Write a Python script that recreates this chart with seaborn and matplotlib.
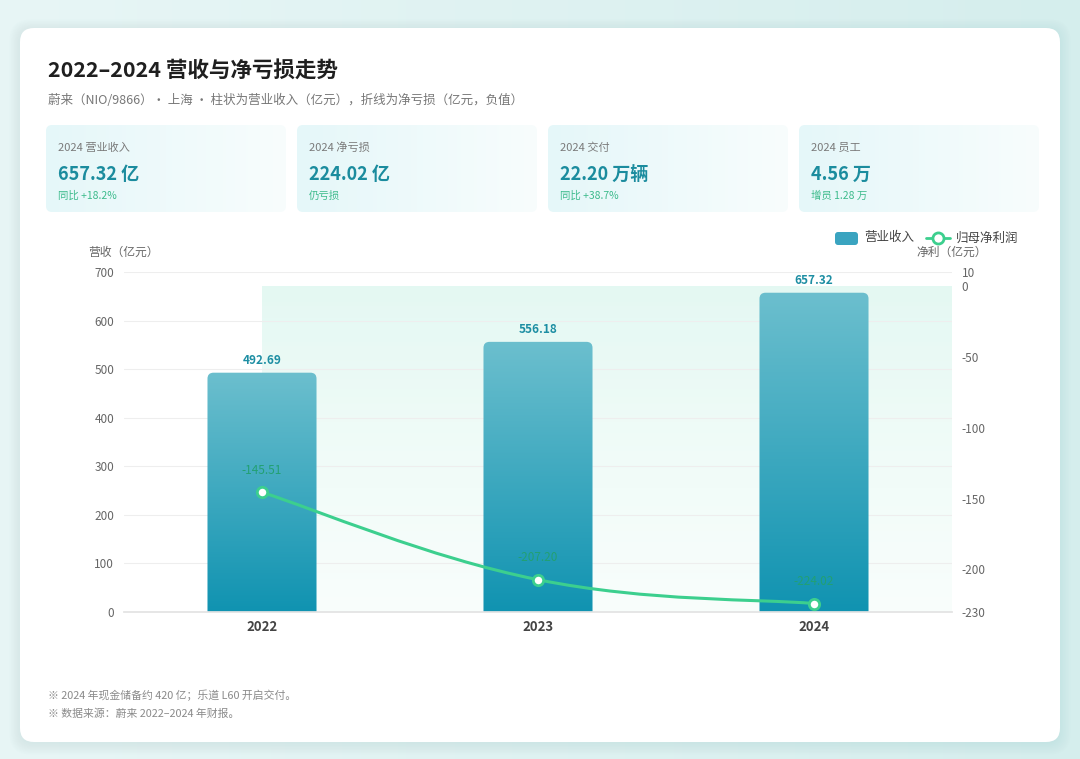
import numpy as np
import matplotlib.pyplot as plt
import matplotlib.colors as mcolors
from matplotlib.patches import FancyBboxPatch, PathPatch
from matplotlib.path import Path
import seaborn as sns

# data
years = ['2022', '2023', '2024']
revenue = [492.69, 556.18, 657.32]
net_profit = [-145.51, -207.20, -224.02]

kpi_titles = ['2024 营业收入', '2024 净亏损', '2024 交付', '2024 员工']
kpi_values = ['657.32 亿', '224.02 亿', '22.20 万辆', '4.56 万']
kpi_notes = ['同比 +18.2%', '仍亏损', '同比 +38.7%', '增员 1.28 万']

left_ticks = [0, 100, 200, 300, 400, 500, 600, 700]
right_ticks = [10, 0, -50, -100, -150, -200, -230]

title = '2022–2024 营收与净亏损走势'
subtitle = '蔚来（NIO/9866）・ 上海 ・ 柱状为营业收入（亿元），折线为净亏损（亿元，负值）'
notes = ['※ 2024 年现金储备约 420 亿；乐道 L60 开启交付。',
         '※ 数据来源：蔚来 2022–2024 年财报。']

sns.set_theme(style='white')
plt.rcParams['font.family'] = ['Noto Sans CJK SC', 'DejaVu Sans']
plt.rcParams['axes.unicode_minus'] = False

TEAL = '#1b8c9e'
GREEN = '#3ccf8e'
W, H = 1080, 759


def hgrad(c1, c2, n=256):
    a, b = np.array(mcolors.to_rgba(c1)), np.array(mcolors.to_rgba(c2))
    t = np.linspace(0, 1, n)[None, :, None]
    return a + (b - a) * t


def vgrad(c1, c2, n=256):
    a, b = np.array(mcolors.to_rgba(c1)), np.array(mcolors.to_rgba(c2))
    t = np.linspace(0, 1, n)[:, None, None]
    return a + (b - a) * t


fig = plt.figure(figsize=(W / 100, H / 100), dpi=100)

# page background + white card (pixel coords)
bg = fig.add_axes([0, 0, 1, 1])
bg.imshow(hgrad('#e8f6f6', '#d5eeed'), extent=(0, W, H, 0), aspect='auto',
          interpolation='bicubic', zorder=0)
bg.set_xlim(0, W)
bg.set_ylim(H, 0)
bg.axis('off')

for i in range(8):
    bg.add_patch(FancyBboxPatch((20 - i * 1.5, 30 - i * 1.5), 1040 + i * 3, 714 + i * 3,
                                boxstyle=f'round,pad=0,rounding_size={14 + i}',
                                fc='#7fb8b8', ec='none', alpha=0.02, zorder=1))
bg.add_patch(FancyBboxPatch((20, 28), 1040, 714, boxstyle='round,pad=0,rounding_size=14',
                            fc='white', ec='none', zorder=2))

bg.text(48, 70, title, fontsize=15.5, weight='bold', color='#1f1f1f', va='center', zorder=3)
bg.text(48, 100, subtitle, fontsize=9, color='#777777', va='center', zorder=3)

# KPI cards
for i in range(4):
    x0 = 46 + i * 251
    card = FancyBboxPatch((x0, 125), 240, 87, boxstyle='round,pad=0,rounding_size=6',
                          fc='none', ec='none', transform=bg.transData)
    im = bg.imshow(hgrad('#e5f7f9', '#f8fdfd'), extent=(x0, x0 + 240, 212, 125),
                   aspect='auto', interpolation='bicubic', zorder=3)
    im.set_clip_path(card)
    bg.text(x0 + 12, 148, kpi_titles[i], fontsize=8, color='#7a7a7a', va='center', zorder=4)
    bg.text(x0 + 12, 174, kpi_values[i], fontsize=13, weight='bold', color=TEAL,
            va='center', zorder=4)
    bg.text(x0 + 12, 196, kpi_notes[i], fontsize=7.5, color='#3dbb8c', va='center', zorder=4)
bg.set_xlim(0, W)
bg.set_ylim(H, 0)

# legend
bg.add_patch(FancyBboxPatch((835, 232), 23, 13, boxstyle='round,pad=0,rounding_size=3',
                            fc='#3aa4c0', ec='none', zorder=4))
bg.text(864, 238, '营业收入', fontsize=9, color='#444444', va='center', zorder=4)
bg.plot([926, 950], [238, 238], color=GREEN, lw=2, zorder=4)
bg.plot([938], [238], marker='o', ms=8, mfc='white', mec=GREEN, mew=2, zorder=5)
bg.text(956, 238, '归母净利润', fontsize=9, color='#444444', va='center', zorder=4)

bg.text(88, 252, '营收（亿元）', fontsize=8.5, color='#666666', va='center', zorder=4)
bg.text(916, 252, '净利（亿元）', fontsize=8.5, color='#666666', va='center', zorder=4)

for k, s in enumerate(notes):
    bg.text(48, 695 + k * 19, s, fontsize=7.8, color='#8a8a8a', va='center', zorder=4)

# plot area
rect = [124 / W, 1 - 612 / H, 828 / W, 340 / H]

# shaded band behind bars (right-axis scale)
ax_bg = fig.add_axes(rect)
ax_bg.imshow(vgrad((0.89, 0.975, 0.95, 0.95), (0.96, 0.99, 0.98, 0.6)),
             extent=(0, 2.5, -230, 0), aspect='auto', interpolation='bicubic')
ax_bg.set_xlim(-0.5, 2.5)
ax_bg.set_ylim(-230, 10)
ax_bg.axis('off')

ax = fig.add_axes(rect)
ax.patch.set_alpha(0)
sns.barplot(x=years, y=revenue, ax=ax, width=0.395, color='#2a9fbb', zorder=2)
ax.set_xlim(-0.5, 2.5)
ax.set_ylim(0, 700)

r = 6 / 276
ma = (700 / 340 * 6) / r
for p, v in zip(list(ax.patches), revenue):
    bx, bw, bh = p.get_x(), p.get_width(), p.get_height()
    p.set_visible(False)
    clip = FancyBboxPatch((bx, -80), bw, bh + 80, boxstyle=f'round,pad=0,rounding_size={r}',
                          mutation_aspect=ma, fc='none', ec='none', transform=ax.transData)
    im = ax.imshow(vgrad('#6cbfce', '#1093b1'), extent=(bx, bx + bw, 0, bh),
                   aspect='auto', interpolation='bicubic', zorder=2)
    im.set_clip_path(clip)
    ax.annotate(f'{v:.2f}', (bx + bw / 2, bh), xytext=(0, 4), textcoords='offset points',
                ha='center', va='bottom', fontsize=8.5, weight='bold', color='#1d8ea3')

ax.set_xlim(-0.5, 2.5)
ax.set_ylim(0, 700)
ax.set_yticks(left_ticks)
ax.set_xlabel('')
ax.set_ylabel('')
ax.yaxis.grid(True, color='#eeeeee', lw=0.8)
ax.set_axisbelow(True)
ax.tick_params(axis='y', length=0, pad=7, labelsize=8.5, labelcolor='#666666')
ax.tick_params(axis='x', length=0, pad=6, labelsize=9.5, labelcolor='#444444')
for t in ax.get_xticklabels():
    t.set_fontweight('bold')
for s in ['top', 'right', 'left']:
    ax.spines[s].set_visible(False)
ax.spines['bottom'].set_color('#e3e3e3')

# net profit line (right axis)
ax2 = ax.twinx()
ax2.set_ylim(-230, 10)
ax2.set_yticks(right_ticks)
ax2.tick_params(axis='y', length=0, pad=7, labelsize=8.5, labelcolor='#666666')
for s in ax2.spines.values():
    s.set_visible(False)
ax2.grid(False)

xs = np.arange(len(years))
pts = np.column_stack([xs, net_profit])
k = 0.2
verts, codes = [pts[0]], [Path.MOVETO]
for i in range(len(pts) - 1):
    p0, p1 = pts[i], pts[i + 1]
    prev = pts[i - 1] if i > 0 else p0
    nxt = pts[i + 2] if i + 2 < len(pts) else p1
    verts += [p0 + (p1 - prev) * k, p1 - (nxt - p0) * k, p1]
    codes += [Path.CURVE4] * 3
ax2.add_patch(PathPatch(Path(verts, codes), fc='none', ec=GREEN, lw=2.2, zorder=4))
sns.scatterplot(x=xs, y=net_profit, ax=ax2, s=55, color='white', edgecolor=GREEN,
                linewidth=2, zorder=5, legend=False)
for x, v in zip(xs, net_profit):
    ax2.annotate(f'{v:.2f}', (x, v), xytext=(0, 11), textcoords='offset points',
                 ha='center', va='bottom', fontsize=8.5, weight='medium', color='#22a072')
ax2.set_xlim(-0.5, 2.5)
ax2.set_ylim(-230, 10)

fig.savefig('out.png', dpi=100)
